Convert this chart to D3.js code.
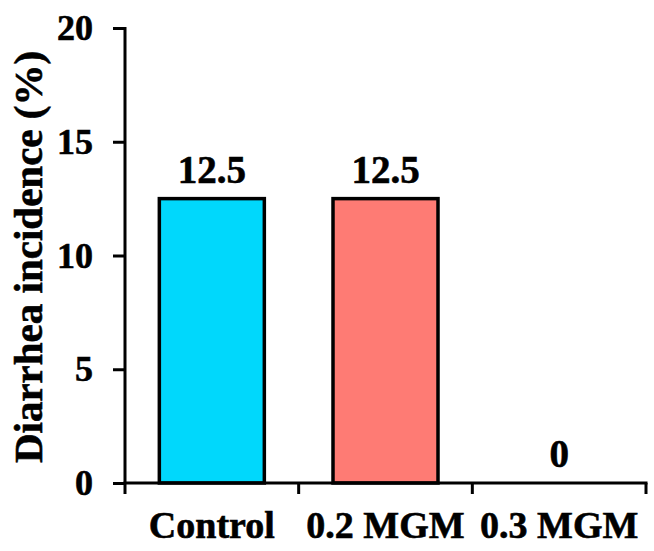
<!DOCTYPE html>
<html>
<head>
<meta charset="utf-8">
<script src="https://cdn.jsdelivr.net/npm/d3@7"></script>
<style>
  body { margin: 0; background: #fff; }
  text { font-family: "Liberation Serif", "Times New Roman", serif; font-weight: bold; fill: #000; stroke: #000; stroke-width: 0.6px; }
</style>
</head>
<body>
<div id="chart"></div>
<script>
// Data
const groups = ["Control", "0.2 MGM", "0.3 MGM"];
const incidence = [12.5, 12.5, 0];
const yTicks = [0, 5, 10, 15, 20];

// Styling
const barColors = ["#00d8fc", "#fe7b74", "#ffffff"];

// Size + margins
const margin = { top: 28, right: 8, bottom: 68, left: 125 };
const width  = 654 - margin.left - margin.right;
const height = 551 - margin.top - margin.bottom;

const svg = d3.select("#chart")
  .append("svg")
  .attr("width",  654)
  .attr("height", 551)
  .append("g")
  .attr("transform", `translate(${margin.left},${margin.top})`);

const x = d3.scaleBand().domain(groups).range([0, width]).padding(0);
const y = d3.scaleLinear().domain([0, 20]).range([height, 0]);

const barW = 105;
const rows = groups.map((g, i) => ({ g, v: incidence[i], c: barColors[i] }));

// Bars (zero bar has no height)
svg.selectAll(".bar")
  .data(rows.filter(d => d.v > 0))
  .enter().append("rect")
  .attr("class", "bar")
  .attr("x", d => x(d.g) + (x.bandwidth() - barW) / 2)
  .attr("y", d => y(d.v))
  .attr("width", barW)
  .attr("height", d => y(0) - y(d.v))
  .attr("fill", d => d.c)
  .attr("stroke", "#000")
  .attr("stroke-width", 3.5);

// Value labels
svg.selectAll(".val")
  .data(rows)
  .enter().append("text")
  .attr("class", "val")
  .attr("x", d => x(d.g) + x.bandwidth() / 2)
  .attr("y", d => y(d.v) - 16)
  .attr("text-anchor", "middle")
  .style("font-size", "39px")
  .text(d => d.v);

// Y axis
const yAxis = svg.append("g")
  .call(d3.axisLeft(y).tickValues(yTicks).tickSize(12).tickPadding(0).tickFormat(""));
yAxis.select(".domain").attr("stroke-width", 3).attr("d", `M-12,0.5H0V${height}`);
yAxis.selectAll(".tick line").attr("stroke-width", 3);
svg.selectAll(".ytl")
  .data(yTicks)
  .enter().append("text")
  .attr("class", "ytl")
  .attr("x", -32)
  .attr("y", d => y(d))
  .attr("dy", "0.34em")
  .attr("text-anchor", "end")
  .style("font-size", "36px")
  .text(d => d);

// X axis with ticks at band edges
const xAxis = svg.append("g").attr("transform", `translate(0,${height})`);
xAxis.append("line")
  .attr("x1", -1.5).attr("x2", width + 1.5)
  .attr("stroke", "#000").attr("stroke-width", 3);
xAxis.selectAll(".xt")
  .data(groups.map(g => x(g)).concat([width]))
  .enter().append("line")
  .attr("x1", d => d).attr("x2", d => d)
  .attr("y1", 0).attr("y2", 11)
  .attr("stroke", "#000").attr("stroke-width", 3);
xAxis.selectAll(".xl")
  .data(groups)
  .enter().append("text")
  .attr("x", d => x(d) + x.bandwidth() / 2)
  .attr("y", 55)
  .attr("text-anchor", "middle")
  .style("font-size", "38px")
  .text(d => d);

// Y axis title
svg.append("text")
  .attr("transform", `translate(${42 - margin.left},${257 - margin.top}) rotate(-90)`)
  .attr("text-anchor", "middle")
  .style("font-size", "41px")
  .text("Diarrhea incidence (%)");
</script>
</body>
</html>
